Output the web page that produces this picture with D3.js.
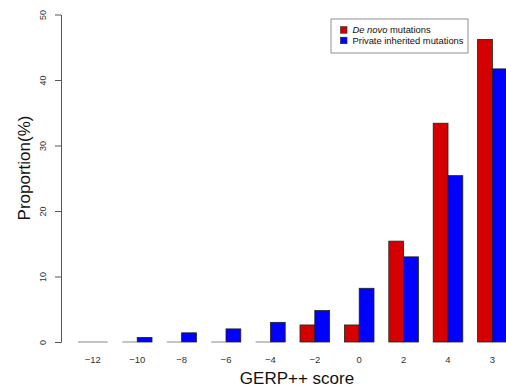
<!DOCTYPE html>
<html>
<head>
<meta charset="utf-8">
<script src="https://cdn.jsdelivr.net/npm/d3@7"></script>
<style>
  body { margin: 0; background: #fff; }
  svg { display: block; font-family: "Liberation Sans", Arial, sans-serif; }
</style>
</head>
<body>
<svg class="chart" width="506" height="392"></svg>
<script>
// GERP++ score bins as shown on the x axis
var scores = ["-12", "-10", "-8", "-6", "-4", "-2", "0", "2", "4", "3"];
var seriesNames = ["De novo mutations", "Private inherited mutations"];
var deNovo = [0, 0, 0, 0, 0, 2.6, 2.6, 15.4, 33.4, 46.2];
var inherited = [0, 0.7, 1.4, 2.0, 3.0, 4.8, 8.2, 13.0, 25.4, 41.7];
var yTicks = [0, 10, 20, 30, 40, 50];
var colors = ["#d40000", "#0000ff"];

var svg = d3.select(".chart");
svg.append("rect").attr("width", 506).attr("height", 392).attr("fill", "#fff");

var y = d3.scaleLinear().domain([0, 50]).range([342, 14.5]);

// band step ~44.4px, bar width ~14.8, a one-bar gap between groups
var x = d3.scaleBand().domain(scores)
  .range([70.6, 514.6])
  .paddingInner(1 / 3)
  .paddingOuter(1 / 6);
var xs = d3.scaleBand().domain([0, 1]).range([0, x.bandwidth()]);

var rows = scores.map(function (s, i) {
  return { score: s, values: [deNovo[i], inherited[i]] };
});

var group = svg.selectAll(".grp")
  .data(rows)
  .enter().append("g")
  .attr("class", "grp")
  .attr("transform", function (d) { return "translate(" + x(d.score) + ",0)"; });

group.selectAll("rect")
  .data(function (d) { return d.values.filter(function (v) { return v > 0; }).length ? d.values : []; })
  .enter().append("rect")
  .attr("x", function (d, i) { return xs(i); })
  .attr("y", function (d) { return y(d); })
  .attr("width", xs.bandwidth())
  .attr("height", function (d) { return y(0) - y(d); })
  .attr("fill", function (d, i) { return colors[i]; })
  .attr("stroke", "#222")
  .attr("stroke-width", 0.8);

// zero-height bars show up as a flat grey line
group.selectAll("line.zero")
  .data(function (d) { return d.values; })
  .enter().filter(function (d) { return d === 0; }).append("line")
  .attr("class", "zero")
  .attr("x1", function (d, i) { return xs(i); })
  .attr("x2", function (d, i) { return xs(i) + xs.bandwidth(); })
  .attr("y1", y(0)).attr("y2", y(0))
  .attr("stroke", "#888")
  .attr("stroke-width", 1);

// y axis, R style with rotated labels
var yAxis = svg.append("g")
  .attr("transform", "translate(61,0)")
  .call(d3.axisLeft(y).tickValues(yTicks).tickSize(6).tickSizeOuter(0));
yAxis.select(".domain").attr("stroke", "#555");
yAxis.selectAll(".tick line").attr("stroke", "#555");
yAxis.selectAll(".tick text")
  .attr("x", 0).attr("dy", 0)
  .attr("text-anchor", "middle")
  .attr("transform", "translate(-15,0) rotate(-90)")
  .attr("font-size", 9)
  .attr("font-family", "Liberation Sans, Arial, sans-serif")
  .attr("fill", "#333");

// x tick labels only (no axis line)
svg.append("g").selectAll("text")
  .data(scores)
  .enter().append("text")
  .attr("x", function (d) { return x(d) + x.bandwidth() / 2; })
  .attr("y", 363)
  .attr("text-anchor", "middle")
  .attr("font-size", 9.5)
  .attr("fill", "#333")
  .text(function (d) { return d.replace("-", "\u2212"); });

svg.append("text")
  .attr("x", 297).attr("y", 384)
  .attr("text-anchor", "middle")
  .attr("font-size", 17)
  .attr("fill", "#111")
  .text("GERP++ score");

svg.append("text")
  .attr("transform", "translate(30,168) rotate(-90)")
  .attr("text-anchor", "middle")
  .attr("font-size", 17)
  .attr("fill", "#111")
  .text("Proportion(%)");

// legend
var legend = svg.append("g").attr("transform", "translate(331,19)");
legend.append("rect")
  .attr("width", 137).attr("height", 34)
  .attr("fill", "#fff").attr("stroke", "#777").attr("stroke-width", 0.8);
var item = legend.selectAll(".item")
  .data(seriesNames)
  .enter().append("g")
  .attr("class", "item")
  .attr("transform", function (d, i) { return "translate(0," + (11 + i * 10.5) + ")"; });
item.append("rect")
  .attr("x", 9.5).attr("y", -3.3)
  .attr("width", 6.5).attr("height", 6.5)
  .attr("fill", function (d, i) { return colors[i]; })
  .attr("stroke", "#222").attr("stroke-width", 0.6);
var lt = item.append("text")
  .attr("x", 21.5).attr("y", 3.3)
  .attr("font-size", 9.4)
  .attr("fill", "#111");
lt.filter(function (d, i) { return i === 0; })
  .each(function () {
    var t = d3.select(this);
    t.append("tspan").attr("font-style", "italic").text("De novo");
    t.append("tspan").text(" mutations");
  });
lt.filter(function (d, i) { return i === 1; })
  .text(function (d) { return d; });
</script>
</body>
</html>
